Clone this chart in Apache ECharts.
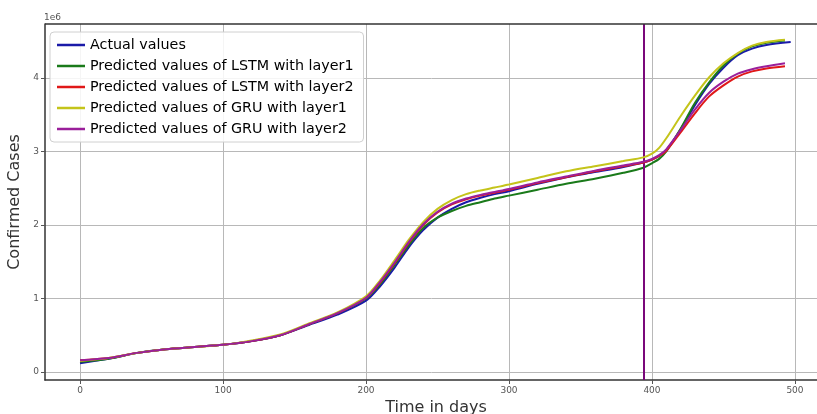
<!DOCTYPE html>
<html>
<head>
<meta charset="utf-8">
<script src="https://cdn.jsdelivr.net/npm/echarts@6/dist/echarts.min.js"></script>
<style>
html,body{margin:0;padding:0;background:#fff;}
#c{width:817px;height:414px;}
</style>
</head>
<body>
<div id="c"></div>
<script>
// Days (x) for prediction series and actual series
var predDays   = [0,20,40,60,80,100,120,140,160,180,200,210,220,230,240,250,260,270,280,290,300,320,340,360,380,394,400,405,410,420,430,440,450,460,470,480,493];
var actualDays = [0,20,40,60,80,100,120,140,160,180,200,210,220,230,240,250,260,270,280,290,300,320,340,360,380,394,400,405,410,420,430,440,450,460,470,480,497];

// Values in millions (axis shows 1e6 multiplier)
var actual = [0.12,0.18,0.26,0.31,0.34,0.37,0.42,0.50,0.64,0.78,0.97,1.17,1.42,1.70,1.93,2.10,2.22,2.31,2.37,2.42,2.46,2.56,2.65,2.72,2.79,2.85,2.89,2.94,3.02,3.30,3.63,3.92,4.14,4.31,4.40,4.45,4.49];
var lstm1  = [0.14,0.18,0.26,0.31,0.34,0.37,0.42,0.50,0.65,0.80,1.00,1.20,1.46,1.73,1.96,2.10,2.19,2.26,2.31,2.36,2.40,2.48,2.56,2.63,2.71,2.78,2.84,2.90,3.00,3.31,3.66,3.94,4.17,4.33,4.43,4.48,4.51];
var lstm2  = [0.16,0.19,0.26,0.31,0.34,0.37,0.42,0.50,0.65,0.80,1.01,1.22,1.48,1.76,2.00,2.17,2.28,2.35,2.40,2.44,2.48,2.57,2.65,2.73,2.80,2.85,2.89,2.94,3.01,3.26,3.52,3.75,3.90,4.02,4.09,4.13,4.16];
var gru1   = [0.15,0.19,0.26,0.31,0.34,0.37,0.43,0.51,0.66,0.81,1.03,1.25,1.52,1.80,2.04,2.22,2.34,2.42,2.47,2.51,2.55,2.64,2.73,2.80,2.87,2.92,2.97,3.05,3.18,3.48,3.76,4.01,4.20,4.34,4.44,4.49,4.52];
var gru2   = [0.16,0.19,0.26,0.31,0.34,0.37,0.42,0.50,0.65,0.80,1.01,1.23,1.49,1.77,2.01,2.18,2.29,2.36,2.41,2.45,2.49,2.58,2.66,2.74,2.81,2.86,2.90,2.95,3.03,3.29,3.57,3.80,3.95,4.06,4.12,4.16,4.20];

var splitDay = 394;
var xTicks = [0,100,200,300,400,500];
var yTicks = [0,1,2,3,4];
var names = ['Actual values','Predicted values of LSTM with layer1','Predicted values of LSTM with layer2','Predicted values of GRU with layer1','Predicted values of GRU with layer2'];
var colors = ['#1a1aa8','#1a7a1a','#e01818','#c4c41a','#9a1f9a'];

function pairs(xs, ys){ return xs.map(function(x,i){ return [x, ys[i]]; }); }

var seriesData = [pairs(actualDays, actual), pairs(predDays, lstm1), pairs(predDays, lstm2), pairs(predDays, gru1), pairs(predDays, gru2)];

var chart = echarts.init(document.getElementById('c'), null, {renderer:'canvas'});
var font = 'DejaVu Sans';
var series = seriesData.map(function(d,i){
  var s = {
    name: names[i], type:'line', data:d, smooth:0.3, showSymbol:false, symbol:'none',
    lineStyle:{color:colors[i], width:2}, itemStyle:{color:colors[i]}, z: 3+i, animation:false
  };
  if (i === 4) {
    s.markLine = {symbol:'none', silent:true, label:{show:false},
      lineStyle:{color:'#7a087a', width:2, type:'solid'},
      data:[{xAxis: splitDay}], animation:false};
  }
  return s;
});

chart.setOption({
  animation:false,
  backgroundColor:'#fff',
  grid:{left:45, right:-10, top:24, bottom:34, containLabel:false, outerBoundsMode:'none'},
  legend:{
    orient:'vertical', left:50, top:32, icon:'rect', itemWidth:28, itemHeight:2.5, itemGap:5,
    padding:[5,10,5,7], backgroundColor:'rgba(255,255,255,0.85)', borderColor:'#d0d0d0', borderWidth:1, borderRadius:4,
    textStyle:{fontFamily:font, fontSize:14.3, color:'#000', lineHeight:16},
    data:names
  },
  xAxis:{
    type:'value', min:-24.5, max:522.4,
    name:'Time in days', nameLocation:'middle', nameGap:17,
    nameTextStyle:{fontFamily:font, fontSize:16, color:'#333'},
    axisLine:{show:true, onZero:false, lineStyle:{color:'#333', width:1.5}},
    axisTick:{show:true, length:4, customValues:xTicks, lineStyle:{color:'#555'}},
    axisLabel:{customValues:xTicks, fontFamily:font, fontSize:9, color:'#555', margin:6},
    splitLine:{show:true, lineStyle:{color:'#b8b8b8', width:1}}
  },
  yAxis:{
    type:'value', min:-0.109, max:4.735,
    name:'Confirmed Cases', nameLocation:'middle', nameGap:17, nameRotate:90,
    nameTextStyle:{fontFamily:font, fontSize:16, color:'#333'},
    axisLine:{show:true, onZero:false, lineStyle:{color:'#333', width:1.5}},
    axisTick:{show:true, length:4, customValues:yTicks, lineStyle:{color:'#555'}},
    axisLabel:{customValues:yTicks, fontFamily:font, fontSize:9, color:'#555', margin:6,
      formatter:function(v){ return String(Math.round(v)); }},
    splitLine:{show:true, lineStyle:{color:'#b8b8b8', width:1}}
  },
  graphic:[
    {type:'line', shape:{x1:45, y1:24, x2:817, y2:24}, style:{stroke:'#333', lineWidth:1.5}, z:10},
    {type:'text', left:44, top:13, style:{text:'1e6', font:'9px "DejaVu Sans"', fill:'#555'}}
  ],
  series: series
});
</script>
</body>
</html>
